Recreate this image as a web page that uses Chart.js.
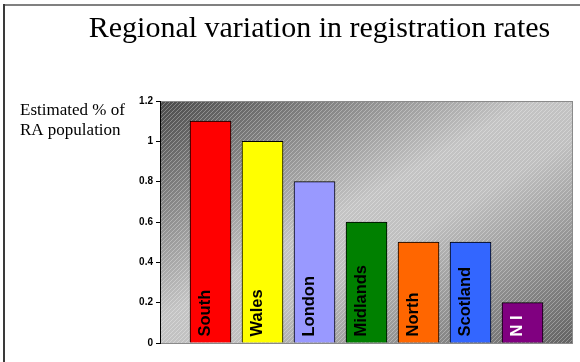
<!DOCTYPE html>
<html>
<head>
<meta charset="utf-8">
<script src="https://cdn.jsdelivr.net/npm/chart.js@4"></script>
<style>
  html, body { margin: 0; padding: 0; background: #fff; }
</style>
</head>
<body>
<canvas id="regionChart" width="580" height="362"></canvas>
<script>
// data
const regions = ['South', 'Wales', 'London', 'Midlands', 'North', 'Scotland', 'N I'];
const rates = [1.1, 1.0, 0.8, 0.6, 0.5, 0.5, 0.2];
const barColors = ['#FF0000', '#FFFF00', '#9999FF', '#008000', '#FF6600', '#3366FF', '#800080'];
const labelColors = ['#000', '#000', '#000', '#000', '#000', '#000', '#fff'];
const yTicks = [0, 0.2, 0.4, 0.6, 0.8, 1, 1.2];

// striped grey background behind the bars
const stripes = document.createElement('canvas');
stripes.width = 4; stripes.height = 4;
const sctx = stripes.getContext('2d');
sctx.fillStyle = 'rgba(255,255,255,0.3)';
for (let i = 0; i < 4; i++) sctx.fillRect(i, 3 - i, 1, 1);

const plotBackground = {
  id: 'plotBackground',
  beforeDraw(chart) {
    const { ctx, chartArea: a } = chart;
    const cx = (a.left + a.right) / 2, cy = (a.top + a.bottom) / 2;
    const w = a.right - a.left, h = a.bottom - a.top;
    const len = Math.hypot(w, h);
    const ux = h / len, uy = w / len;
    const half = (w / 2 * h + h / 2 * w) / len;
    const g = ctx.createLinearGradient(cx - ux * half, cy - uy * half, cx + ux * half, cy + uy * half);
    g.addColorStop(0, '#4a4a4a');
    g.addColorStop(0.45, '#c4c4c4');
    g.addColorStop(0.58, '#c0c0c0');
    g.addColorStop(1, '#626262');
    ctx.save();
    ctx.fillStyle = g;
    ctx.fillRect(a.left, a.top, w, h);
    ctx.fillStyle = ctx.createPattern(stripes, 'repeat');
    ctx.fillRect(a.left, a.top, w, h);
    ctx.strokeStyle = '#8a8a8a';
    ctx.lineWidth = 1;
    ctx.strokeRect(a.left + 0.5, a.top + 0.5, w - 1, h);
    ctx.restore();
  }
};

// slide text and frame
const slideText = {
  id: 'slideText',
  afterDraw(chart) {
    const ctx = chart.ctx;
    ctx.save();
    ctx.strokeStyle = '#808080';
    ctx.lineWidth = 2;
    ctx.beginPath(); ctx.moveTo(4, 5); ctx.lineTo(580, 5); ctx.stroke();
    ctx.strokeStyle = '#3a3a3a';
    ctx.beginPath(); ctx.moveTo(4, 4); ctx.lineTo(4, 362); ctx.stroke();

    ctx.fillStyle = '#000';
    ctx.textBaseline = 'alphabetic';
    ctx.textAlign = 'center';
    ctx.font = '30px "Liberation Serif", "Times New Roman", serif';
    ctx.fillText('Regional variation in registration rates', 319.5, 37);
    ctx.textAlign = 'left';
    ctx.font = '17px "Liberation Serif", "Times New Roman", serif';
    ctx.fillText('Estimated % of', 20, 115);
    ctx.fillText('RA population', 20, 135);
    ctx.restore();
  }
};

// vertical category names inside the bars
const barLabels = {
  id: 'barLabels',
  afterDatasetsDraw(chart) {
    const ctx = chart.ctx;
    const bars = chart.getDatasetMeta(0).data;
    ctx.save();
    ctx.font = 'bold 16.5px "Liberation Sans", Arial, sans-serif';
    ctx.textAlign = 'left';
    ctx.textBaseline = 'alphabetic';
    bars.forEach((bar, i) => {
      ctx.save();
      ctx.translate(bar.x, bar.base);
      ctx.rotate(-Math.PI / 2);
      ctx.fillStyle = labelColors[i];
      ctx.fillText(regions[i], 6, -0.5);
      ctx.restore();
    });
    ctx.restore();
  }
};

const regionChart = new Chart(
  document.getElementById('regionChart'),
  {
    type: 'bar',
    data: {
      datasets: [{
        data: rates.map((v, i) => ({ x: i, y: v })),
        backgroundColor: barColors,
        borderColor: '#000',
        borderWidth: 1,
        barThickness: 41
      }]
    },
    options: {
      responsive: false,
      animation: false,
      layout: { padding: { left: 0, right: 7, top: 101, bottom: 19 } },
      plugins: {
        legend: { display: false },
        tooltip: { enabled: false },
        title: { display: false }
      },
      scales: {
        x: {
          type: 'linear',
          display: false,
          offset: false,
          min: -0.971,
          max: 6.971
        },
        y: {
          min: 0,
          max: 1.2,
          afterBuildTicks: scale => { scale.ticks = yTicks.map(v => ({ value: v })); },
          afterFit: scale => { scale.width = 160; },
          grid: { drawOnChartArea: false, tickLength: 4, color: '#000' },
          border: { display: true, color: '#000', width: 1 },
          ticks: {
            padding: 3,
            color: '#000',
            font: { family: '"Liberation Sans", Arial, sans-serif', weight: 'bold', size: 10 },
            callback: value => String(value)
          }
        }
      }
    },
    plugins: [plotBackground, barLabels, slideText]
  }
);
</script>
</body>
</html>
